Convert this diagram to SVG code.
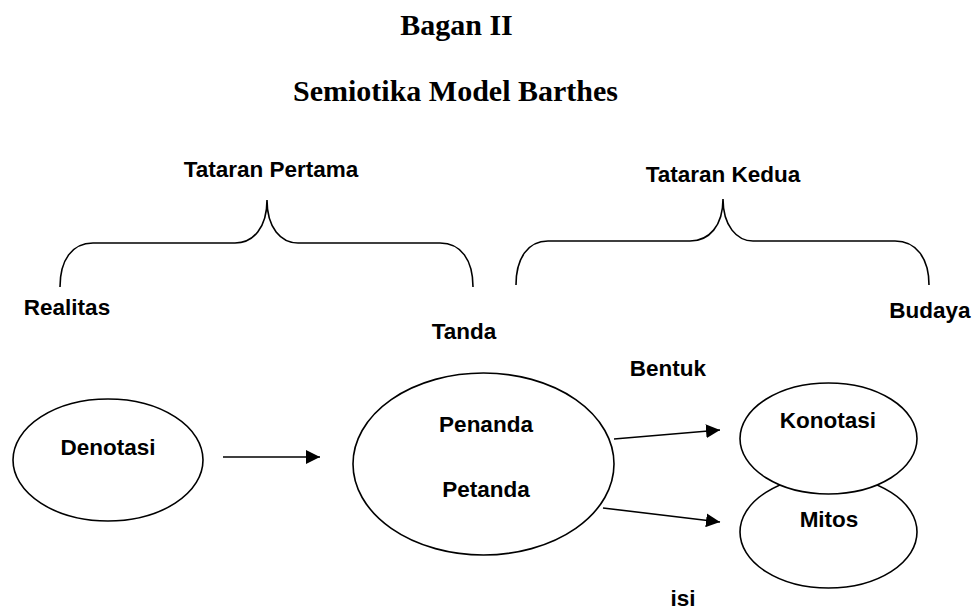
<svg xmlns="http://www.w3.org/2000/svg" width="979" height="614" viewBox="0 0 979 614">
<defs>
<style>
.title{font-family:"Liberation Serif","Times New Roman",serif;font-weight:bold;font-size:30px;fill:#000;text-anchor:middle}
.lbl{font-family:"Liberation Sans",Arial,sans-serif;font-weight:bold;font-size:22.5px;fill:#000;text-anchor:middle}
.shape{fill:#fff;stroke:#000;stroke-width:1.6}
.brace{fill:none;stroke:#000;stroke-width:1.6}
.conn{fill:none;stroke:#000;stroke-width:1.6;marker-end:url(#arr)}
</style>
<marker id="arr" viewBox="0 0 14 14" refX="14" refY="7" markerWidth="14" markerHeight="14" markerUnits="userSpaceOnUse" orient="auto">
<path d="M0,0 L14,7 L0,14 Z" fill="#000"/>
</marker>
</defs>
<rect width="979" height="614" fill="#fff"/>
<g id="titles">
<text class="title" x="456.5" y="35">Bagan II</text>
<text class="title" x="455.5" y="101">Semiotika Model Barthes</text>
</g>
<g id="brace1">
<path class="brace" d="M60,287 C60,260 72,243 93,243 L235,243 C253,243 267,228 267,200 C267,228 281,243 298,243 L440,243 C461,243 473,260 473,287"/>
<text class="lbl" x="271" y="177">Tataran Pertama</text>
</g>
<g id="brace2">
<path class="brace" d="M516,285 C516,258 528,241 548,241 L690,241 C709,241 723,226 723,199 C723,226 737,241 753,241 L895,241 C916,241 929,258 929,285"/>
<text class="lbl" x="723" y="182">Tataran Kedua</text>
</g>
<g id="labels">
<text class="lbl" x="67" y="315">Realitas</text>
<text class="lbl" x="464" y="339">Tanda</text>
<text class="lbl" x="930" y="318">Budaya</text>
<text class="lbl" x="668" y="376">Bentuk</text>
<text class="lbl" x="683" y="606">isi</text>
</g>
<g id="connectors">
<line class="conn" x1="223" y1="457" x2="320" y2="457"/>
<line class="conn" x1="614" y1="439" x2="720" y2="430"/>
<line class="conn" x1="603" y1="508" x2="720" y2="522"/>
</g>
<g id="denotasi">
<ellipse class="shape" cx="108" cy="460" rx="95" ry="61"/>
<text class="lbl" x="108" y="455">Denotasi</text>
</g>
<g id="penanda">
<ellipse class="shape" cx="483.5" cy="464" rx="130.5" ry="91"/>
<text class="lbl" x="486" y="432">Penanda</text>
<text class="lbl" x="486" y="497">Petanda</text>
</g>
<g id="mitos">
<ellipse class="shape" cx="828.5" cy="532" rx="88.5" ry="56"/>
<text class="lbl" x="829" y="527">Mitos</text>
</g>
<g id="konotasi">
<ellipse class="shape" cx="828.5" cy="438.5" rx="88.5" ry="55.5"/>
<text class="lbl" x="828" y="428">Konotasi</text>
</g>
</svg>
